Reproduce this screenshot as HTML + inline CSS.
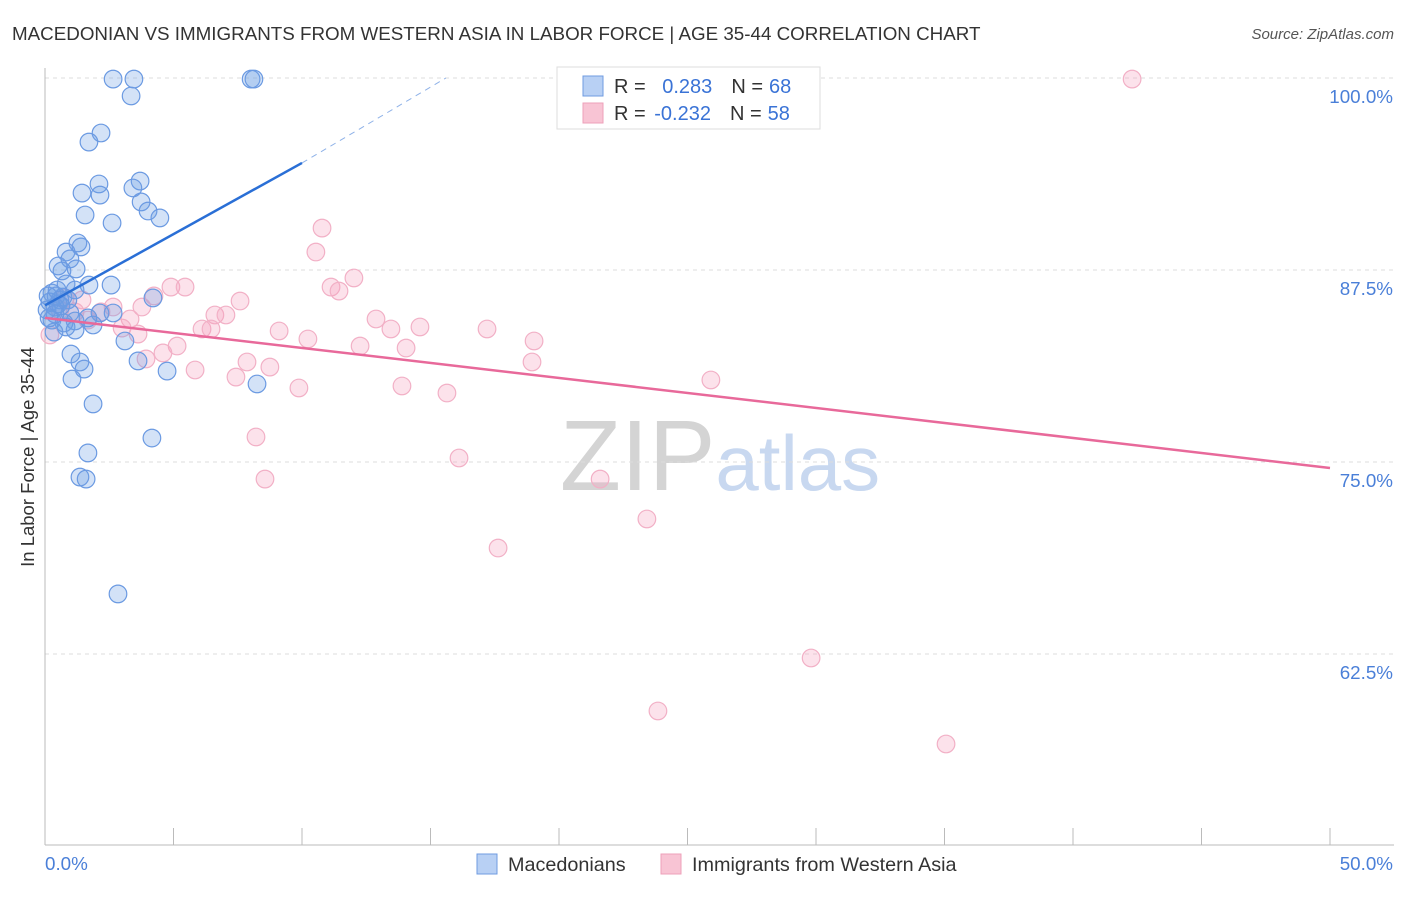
<!DOCTYPE html>
<html><head><meta charset="utf-8"><style>
body{margin:0;background:#fff;font-family:"Liberation Sans",sans-serif;}
svg text{font-family:"Liberation Sans",sans-serif;}
</style></head><body>
<svg id="chart" width="1406" height="892" xmlns="http://www.w3.org/2000/svg">
<text x="12" y="40" font-size="18.8" fill="#333">MACEDONIAN VS IMMIGRANTS FROM WESTERN ASIA IN LABOR FORCE | AGE 35-44 CORRELATION CHART</text>
<text x="1394" y="39" font-size="15" fill="#555" text-anchor="end" font-style="italic">Source: ZipAtlas.com</text>
<text x="720" y="490" font-size="100" fill="#ddd" text-anchor="middle" font-family="Liberation Serif"><tspan fill="#d4d4d4">ZIP</tspan><tspan fill="#c8d8f0" font-family="Liberation Sans" font-size="78">atlas</tspan></text>
<g id="grid"></g><g id="axes"></g><g id="pts"></g><g id="lines"></g>
<text transform="translate(34,457) rotate(-90)" font-size="18.5" fill="#333" text-anchor="middle">In Labor Force | Age 35-44</text>
<g>
<rect x="557" y="67" width="263" height="62" fill="#fff" stroke="#ddd"/>
<rect x="583" y="76" width="20" height="20" fill="#b8d0f4" stroke="#6f9be0"/>
<rect x="583" y="103" width="20" height="20" fill="#f8c4d4" stroke="#eea0ba"/>
<text x="614" y="93" font-size="20" fill="#333">R = <tspan fill="#3a73d6" dx="11">0.283</tspan><tspan dx="19" fill="#333">N =</tspan><tspan dx="6" fill="#3a73d6">68</tspan></text>
<text x="614" y="120" font-size="20" fill="#333">R = <tspan fill="#3a73d6" dx="3">-0.232</tspan><tspan dx="19" fill="#333">N =</tspan><tspan dx="6" fill="#3a73d6">58</tspan></text>
</g>
<g>
<rect x="477" y="854" width="20" height="20" fill="#b8d0f4" stroke="#6f9be0"/>
<text x="508" y="871" font-size="19.8" fill="#333">Macedonians</text>
<rect x="661" y="854" width="20" height="20" fill="#f8c4d4" stroke="#eea0ba"/>
<text x="692" y="871" font-size="19.8" fill="#333">Immigrants from Western Asia</text>
</g>
</svg>
<script>
const yTicks=[100,87.5,75,62.5];
const yTickLabels=["100.0%","87.5%","75.0%","62.5%"];
const xTicks=[0,5,10,15,20,25,30,35,40,45,50];
const blueX=[2.65,3.46,8.02,8.13,3.35,2.18,1.71,3.70,2.10,3.42,1.44,2.14,3.74,4.01,1.56,4.47,2.61,1.28,1.40,0.82,0.97,0.51,1.21,0.66,0.82,2.57,1.71,1.17,0.27,4.20,0.43,0.70,0.58,0.19,0.51,0.39,0.97,2.14,2.65,1.67,0.27,1.17,0.74,1.87,0.82,1.17,0.35,3.11,1.01,1.36,3.62,1.52,4.75,1.05,8.25,1.87,4.16,1.67,1.36,1.60,2.84,0.12,0.08,0.89,0.62,0.39,0.16,0.47];
const blueY=[99.93,99.93,99.93,99.93,98.83,96.42,95.83,93.29,93.10,92.84,92.51,92.38,91.93,91.34,91.08,90.89,90.56,89.26,89.00,88.67,88.22,87.76,87.57,87.44,86.59,86.52,86.52,86.20,86.00,85.68,85.81,85.74,85.55,85.42,85.29,85.09,84.70,84.70,84.70,84.38,84.24,84.18,84.05,83.92,83.79,83.59,83.46,82.88,82.03,81.51,81.58,81.05,80.92,80.40,80.08,78.78,76.56,75.59,74.02,73.89,66.41,85.81,84.90,85.55,85.16,84.64,84.38,86.20];
const pinkX=[20.47,29.11,42.30,10.78,10.54,12.02,4.90,5.45,11.13,11.44,4.24,7.59,1.44,2.65,3.77,6.61,7.04,2.18,3.31,12.88,14.59,9.11,13.46,17.20,3.00,6.11,6.46,19.03,3.62,10.23,12.26,5.14,14.05,4.59,3.93,7.86,18.95,5.84,8.75,7.43,25.91,9.88,13.89,15.64,8.21,16.11,8.56,21.60,23.42,17.63,29.81,23.85,35.06,0.19,0.58,1.17,1.67,0.78];
const pinkY=[99.93,99.93,99.93,90.23,88.67,86.98,86.39,86.39,86.39,86.13,85.81,85.48,85.55,85.09,85.09,84.57,84.57,84.77,84.31,84.31,83.79,83.53,83.66,83.66,83.72,83.66,83.66,82.88,83.33,83.01,82.55,82.55,82.42,82.10,81.71,81.51,81.51,80.99,81.18,80.53,80.34,79.82,79.95,79.49,76.63,75.26,73.89,73.89,71.29,69.40,62.24,58.79,56.64,83.27,84.90,84.77,84.24,85.68];
const blueLine=[[0,85.2],[10,94.47],[15.6,100]];
const pinkLine=[[0,84.38],[50,74.61]];
const NS="http://www.w3.org/2000/svg";
const X=v=>45+v*25.7, Y=v=>78+(100-v)*15.36;
function mk(t,a,p){const e=document.createElementNS(NS,t);for(const k in a)e.setAttribute(k,a[k]);document.getElementById(p).appendChild(e);return e;}
yTicks.forEach((t,i)=>{
 const l=mk('line',{x1:45,x2:1394,y1:Y(t),y2:Y(t),stroke:'#ddd','stroke-dasharray':'4,4'},'grid');
 
 
 const tx=mk('text',{x:1393,y:Y(t)+25,'font-size':18.8,fill:'#4a7fd8','text-anchor':'end'},'axes');
 tx.textContent=yTickLabels[i];
 
 
});
const ax=mk('line',{x1:45,x2:45,y1:68,y2:845,stroke:'#bbb'},'axes');


const bx=mk('line',{x1:45,x2:1394,y1:845,y2:845,stroke:'#bbb'},'axes');


xTicks.forEach(t=>{const l=mk('line',{x1:X(t),x2:X(t),y1:828,y2:845,stroke:'#bbb'},'axes');
 
 });
const x0=mk('text',{x:45,y:870,'font-size':18.8,fill:'#4a7fd8'},'axes');x0.textContent='0.0%';


const x1=mk('text',{x:1393,y:870,'font-size':18.8,fill:'#4a7fd8','text-anchor':'end'},'axes');x1.textContent='50.0%';


pinkX.forEach((v,i)=>{const c=mk('circle',{cx:X(v),cy:Y(pinkY[i]),r:8.8,fill:'rgba(245,160,190,0.3)',stroke:'#f2b0c6','stroke-width':1.2},'pts');
 
 });
blueX.forEach((v,i)=>{const c=mk('circle',{cx:X(v),cy:Y(blueY[i]),r:8.8,fill:'rgba(110,160,230,0.3)',stroke:'#6b9ae2','stroke-width':1.2},'pts');
 
 });
const b1=mk('line',{x1:X(blueLine[0][0]),y1:Y(blueLine[0][1]),x2:X(blueLine[1][0]),y2:Y(blueLine[1][1]),stroke:'#2a6fd6','stroke-width':2.5},'lines');


const b2=mk('line',{x1:X(blueLine[1][0]),y1:Y(blueLine[1][1]),x2:X(blueLine[2][0]),y2:Y(blueLine[2][1]),stroke:'#8fb2e8','stroke-width':1,'stroke-dasharray':'6,5'},'lines');


const p1=mk('line',{x1:X(pinkLine[0][0]),y1:Y(pinkLine[0][1]),x2:X(pinkLine[1][0]),y2:Y(pinkLine[1][1]),stroke:'#e8699a','stroke-width':2.5},'lines');


</script>
</body></html>
